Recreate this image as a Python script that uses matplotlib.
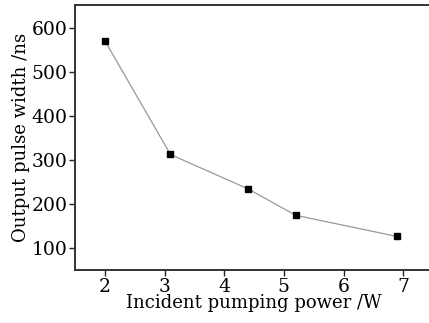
import matplotlib
matplotlib.use('Agg')
import matplotlib.pyplot as plt

# data
power = [2.0, 3.1, 4.4, 5.2, 6.9]
width = [571, 313, 235, 175, 127]
xticks = [2, 3, 4, 5, 6, 7]
yticks = [100, 200, 300, 400, 500, 600]

plt.rcParams['font.family'] = ['DejaVu Serif']
plt.rcParams['mathtext.fontset'] = 'dejavuserif'

W, H = 429, 323
fig = plt.figure(figsize=(W / 100, H / 100), dpi=100)
ax = fig.add_axes([75 / W, 53 / H, (433 - 75) / W, 265 / H])

ax.plot(power, width, color='#999999', lw=0.9, zorder=2)
ax.plot(power, width, ls='none', marker='s', ms=5, mfc='black', mec='black', zorder=3)

ax.set_xlim(1.5, 7.5)
ax.set_ylim(51, 652)
ax.set_xticks(xticks)
ax.set_yticks(yticks)
ax.tick_params(direction='out', length=4, width=1, labelsize=13.5, color='#222222', pad=1.5)
for s in ax.spines.values():
    s.set_linewidth(1.4)
    s.set_color('#333333')

ax.set_xlabel('Incident pumping power /W', fontsize=13, labelpad=-1)
ax.set_ylabel('Output pulse width /ns', fontsize=13, labelpad=1)

fig.savefig('out.png', dpi=100)
